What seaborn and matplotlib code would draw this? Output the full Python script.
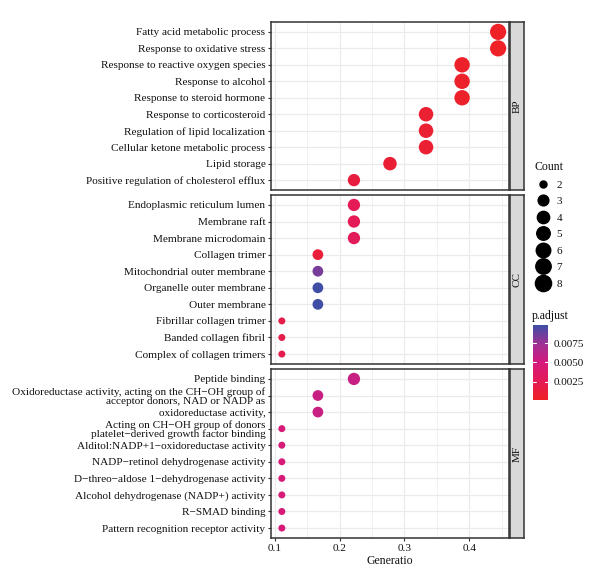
import numpy as np
import pandas as pd
import matplotlib
matplotlib.use("Agg")
import matplotlib.pyplot as plt
import seaborn as sns
from matplotlib.colors import LinearSegmentedColormap, Normalize
from matplotlib.lines import Line2D
import matplotlib as mpl

# ---------------- data ----------------
bp_terms = ["Fatty acid metabolic process", "Response to oxidative stress",
            "Response to reactive oxygen species", "Response to alcohol",
            "Response to steroid hormone", "Response to corticosteroid",
            "Regulation of lipid localization", "Cellular ketone metabolic process",
            "Lipid storage", "Positive regulation of cholesterol efflux"]
bp_count = [8, 8, 7, 7, 7, 6, 6, 6, 5, 4]
bp_padj = [0.0002, 0.0002, 0.0003, 0.0004, 0.0004, 0.0008, 0.0008, 0.0008, 0.0010, 0.0015]

cc_terms = ["Endoplasmic reticulum lumen", "Membrane raft", "Membrane microdomain",
            "Collagen trimer", "Mitochondrial outer membrane", "Organelle outer membrane",
            "Outer membrane", "Fibrillar collagen trimer", "Banded collagen fibril",
            "Complex of collagen trimers"]
cc_count = [4, 4, 4, 3, 3, 3, 3, 2, 2, 2]
cc_padj = [0.0026, 0.0026, 0.0029, 0.0012, 0.0084, 0.0098, 0.0098, 0.0020, 0.0020, 0.0022]

mf_terms = ["Peptide binding",
            "Oxidoreductase activity, acting on the CH\u2212OH group of\nacceptor donors, NAD or NADP as",
            "oxidoreductase activity,",
            "Acting on CH\u2212OH group of donors\nplatelet\u2212derived growth factor binding",
            "Alditol:NADP+1\u2212oxidoreductase activity",
            "NADP\u2212retinol dehydrogenase activity",
            "D\u2212threo\u2212aldose 1\u2212dehydrogenase activity",
            "Alcohol dehydrogenase (NADP+) activity",
            "R\u2212SMAD binding",
            "Pattern recognition receptor activity"]
mf_count = [4, 3, 3, 2, 2, 2, 2, 2, 2, 2]
mf_padj = [0.0056, 0.0056, 0.0056, 0.0046, 0.0046, 0.0046, 0.0046, 0.0046, 0.0046, 0.0046]

gene_total = 18
categories = ["BP", "CC", "MF"]
x_ticks = [0.1, 0.2, 0.3, 0.4]
padj_ticks = [0.0025, 0.0050, 0.0075]
count_levels = [2, 3, 4, 5, 6, 7, 8]

frames = []
for cat, terms, cnt, padj in [("BP", bp_terms, bp_count, bp_padj),
                              ("CC", cc_terms, cc_count, cc_padj),
                              ("MF", mf_terms, mf_count, mf_padj)]:
    frames.append(pd.DataFrame({"Description": terms, "Count": cnt,
                                "p.adjust": padj, "ONTOLOGY": cat,
                                "GeneRatio": np.array(cnt) / gene_total}))
df = pd.concat(frames, ignore_index=True)

# ---------------- style ----------------
sns.set_theme(style="white")
plt.rcParams["font.family"] = ["Liberation Serif", "DejaVu Serif"]
txt_col = "#111111"

cmap = LinearSegmentedColormap.from_list(
    "padj", ["#EE2225", "#E41B55", "#D5197E", "#9E3094", "#3D4FA6"])
vmin, vmax = 0.0001, 0.0099
norm = Normalize(vmin, vmax)

# ggplot area-style sizes: diameter linear in sqrt of rescaled count
dmin_px, dmax_px = 7.0, 16.2
def size_for(c):
    d = dmin_px + (dmax_px - dmin_px) * np.sqrt((c - 2) / 6.0)
    return (d * 0.72) ** 2
sizes = {c: size_for(c) for c in count_levels}

W, H = 600, 584
fig = plt.figure(figsize=(W / 100, H / 100), dpi=100)

def fx(px):
    return px / W

def fy(py):
    return 1 - py / H

panel_left, panel_right = 271, 509
panels = [(22, 190), (195, 364), (369, 538)]

axes = []
for i, cat in enumerate(categories):
    top, bot = panels[i]
    ax = fig.add_axes([fx(panel_left), fy(bot), fx(panel_right - panel_left), (bot - top) / H])
    sub = df[df["ONTOLOGY"] == cat].reset_index(drop=True)
    sub["ypos"] = np.arange(len(sub))
    # grid
    ax.set_axisbelow(True)
    for k, xv in enumerate(np.arange(0.1, 0.46, 0.05)):
        ax.axvline(xv, color="#EBEBEB", lw=0.9 if k % 2 == 0 else 0.5, zorder=0)
    for yv in sub["ypos"]:
        ax.axhline(yv, color="#EBEBEB", lw=0.9, zorder=0)
    sns.scatterplot(data=sub, x="GeneRatio", y="ypos", hue="p.adjust", size="Count",
                    sizes=sizes, palette=cmap, hue_norm=norm, linewidth=0,
                    legend=False, ax=ax, zorder=3)
    ax.set_xlim(0.0944, 0.4612)
    ax.set_ylim(9.6, -0.6)
    ax.set_yticks(sub["ypos"])
    ax.set_yticklabels(sub["Description"], fontsize=8.1, color=txt_col,
                       linespacing=0.95)
    ax.set_xticks(x_ticks)
    ax.set_ylabel("")
    ax.set_xlabel("")
    ax.grid(False)
    ax.tick_params(axis="y", length=2.5, width=0.8, color="#333333", pad=1.5, left=True)
    if i < 2:
        ax.tick_params(axis="x", bottom=False, labelbottom=False)
    else:
        ax.tick_params(axis="x", length=2.5, width=0.8, color="#333333", pad=1.5,
                       bottom=True, labelsize=8.1, labelcolor=txt_col)
        ax.set_xlabel("Generatio", fontsize=8.5, color=txt_col, labelpad=2)
    for s in ax.spines.values():
        s.set_color("#333333")
        s.set_linewidth(1.1)
    # strip
    sax = fig.add_axes([fx(510), fy(bot), fx(14), (bot - top) / H])
    sax.set_facecolor("#D9D9D9")
    sax.set_xticks([])
    sax.set_yticks([])
    for s in sax.spines.values():
        s.set_color("#333333")
        s.set_linewidth(1.1)
    sax.text(0.5, 0.5, cat, rotation=90, ha="center", va="center",
             fontsize=8, color=txt_col, transform=sax.transAxes)
    axes.append(ax)

# ---------------- Count legend ----------------
handles = [Line2D([], [], marker="o", linestyle="", color="black",
                  markersize=np.sqrt(sizes[c])) for c in count_levels]
leg = fig.legend(handles, [str(c) for c in count_levels], title="Count",
                 loc="upper left", bbox_to_anchor=(fx(530), fy(157)),
                 frameon=False, fontsize=8, title_fontsize=8.5,
                 labelspacing=0.6, handletextpad=0.4, handlelength=1.6,
                 borderaxespad=0, alignment="left")
for t in leg.get_texts():
    t.set_color(txt_col)
leg.get_title().set_color(txt_col)

# ---------------- p.adjust colorbar ----------------
fig.text(fx(532), fy(316), "p.adjust", fontsize=8.5, color=txt_col, va="center", ha="left")
cax = fig.add_axes([fx(533), fy(400), fx(15), 75 / H])
cb = mpl.colorbar.ColorbarBase(cax, cmap=cmap, norm=norm, orientation="vertical")
cb.outline.set_visible(False)
cb.set_ticks(padj_ticks)
cb.set_ticklabels(["0.0025", "0.0050", "0.0075"])
cax.tick_params(length=0, labelsize=8, labelcolor=txt_col, pad=4)
for t in padj_ticks:
    cax.plot([0, 0.2], [t, t], color="white", lw=0.8, transform=cax.get_yaxis_transform())
    cax.plot([0.8, 1.0], [t, t], color="white", lw=0.8, transform=cax.get_yaxis_transform())

fig.savefig("out.png", dpi=100, facecolor="white")
